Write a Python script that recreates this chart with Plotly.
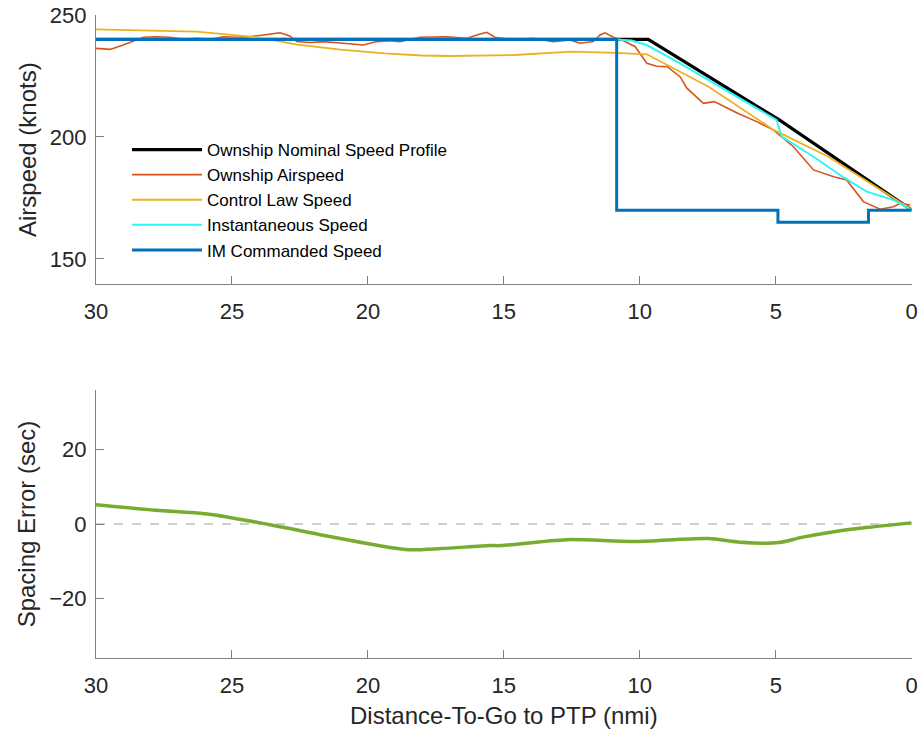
import plotly.graph_objects as go

# ---------------- data ----------------
black_d = [30, 9.69, 4.87, 0]
black_v = [240, 240, 207, 170.1]

red_d = [30.0, 29.48, 29.0, 28.69, 28.26, 27.77, 27.28, 26.79, 26.3, 25.81, 25.32, 24.83,
         24.34, 23.85, 23.23, 22.87, 22.62, 22.13, 21.64, 20.9, 20.17, 19.68, 19.19, 18.82,
         18.08, 17.1, 16.37, 16.0, 15.63, 15.33, 14.65, 13.92, 13.18, 12.57, 12.2, 11.71,
         11.46, 11.28, 10.97, 10.6, 10.17, 9.74, 9.38, 8.99, 8.52, 8.27, 7.66, 7.26, 6.4,
         5.7, 5.09, 4.35, 3.61, 2.87, 2.39, 1.78, 1.16, 0.67, 0.42, 0.05]
red_v = [236.3, 235.9, 237.7, 239.1, 240.9, 241.1, 240.9, 240.0, 240.4, 240.0, 241.1, 240.9,
         241.1, 241.8, 242.7, 241.4, 239.1, 238.7, 239.1, 238.4, 237.7, 239.1, 239.5, 239.1,
         240.9, 241.1, 240.4, 241.8, 242.9, 240.9, 239.8, 240.4, 239.1, 239.8, 238.4, 239.1,
         241.8, 242.7, 240.9, 239.4, 237.0, 230.2, 229.0, 228.8, 224.7, 220.0, 213.8, 214.5, 209.7,
         206.3, 202.9, 196.0, 186.5, 183.7, 182.4, 173.5, 170.4, 171.4, 172.8, 172.1]

orange_d = [30, 28, 26.3, 24.1, 22.6, 21, 19.4, 18, 17.0, 14.6, 12.5, 10.9, 9.74, 7.47, 5.08, 3.06, 0]
orange_v = [244.1, 243.6, 243.2, 240.9, 237.9, 235.8, 234.3, 233.4, 233.2, 233.6, 235.0, 234.5,
            233.9, 220.6, 202.9, 191.9, 170.3]

cyan_d = [10.88, 10.3, 9.75, 8.52, 4.97, 4.78, 3.61, 2.64, 1.66, 0.68, 0]
cyan_v = [240.0, 239.5, 237.7, 230.2, 207.0, 200.1, 191.9, 184.4, 177.6, 174.2, 170.1]

blue_d = [30, 10.85, 10.85, 4.92, 4.92, 1.59, 1.59, 0]
blue_v = [240, 240, 170, 170, 165, 165, 170, 170]

green_d = [30, 27.8, 25.9, 23.6, 21.6, 19.2, 18.5, 17.3, 15.5, 15.1, 12.7, 10.2, 7.5, 6.3,
           4.9, 4.05, 2.8, 1.6, 0]
green_v = [5.2, 3.7, 2.7, -0.2, -3.1, -6.3, -6.9, -6.6, -5.8, -5.8, -4.2, -4.7, -3.9, -4.9,
           -5.0, -3.6, -2.0, -0.9, 0.3]

zero_d = [30, 0]
zero_v = [0, 0]

x_ticks = [30, 25, 20, 15, 10, 5, 0]
top_yticks = [150, 200, 250]
bot_yticks = [-20, 0, 20]

names = ["Ownship Nominal Speed Profile", "Ownship Airspeed", "Control Law Speed",
         "Instantaneous Speed", "IM Commanded Speed"]

# ---------------- figure ----------------
FONT = "Liberation Sans, Arial, sans-serif"
fig = go.Figure()

fig.add_trace(go.Scatter(x=black_d, y=black_v, mode="lines", name=names[0],
                         line=dict(color="#000000", width=3.2), xaxis="x", yaxis="y"))
fig.add_trace(go.Scatter(x=red_d, y=red_v, mode="lines", name=names[1],
                         line=dict(color="#D95319", width=1.6), xaxis="x", yaxis="y"))
fig.add_trace(go.Scatter(x=orange_d, y=orange_v, mode="lines", name=names[2],
                         line=dict(color="#EDB120", width=1.8), xaxis="x", yaxis="y"))
fig.add_trace(go.Scatter(x=cyan_d, y=cyan_v, mode="lines", name=names[3],
                         line=dict(color="#2EF5F5", width=2), xaxis="x", yaxis="y"))
fig.add_trace(go.Scatter(x=blue_d, y=blue_v, mode="lines", name=names[4],
                         line=dict(color="#0072BD", width=3), xaxis="x", yaxis="y"))

fig.add_trace(go.Scatter(x=zero_d, y=zero_v, mode="lines", showlegend=False,
                         line=dict(color="#A0A0A0", width=1.2, dash="dash"),
                         xaxis="x2", yaxis="y2"))
fig.add_trace(go.Scatter(x=green_d, y=green_v, mode="lines", showlegend=False,
                         line=dict(color="#77AC30", width=3.5, shape="spline", smoothing=0.8),
                         xaxis="x2", yaxis="y2"))

W, H = 922, 740
xl, xr = 96 / W, 911.7 / W
axis_common = dict(showline=True, linecolor="#7F7F7F", linewidth=1.2, ticks="inside",
                   ticklen=8, tickcolor="#7F7F7F", tickwidth=1.2, showgrid=False,
                   zeroline=False, mirror=False, automargin=False,
                   tickfont=dict(family=FONT, size=22, color="#262626"))

fig.update_layout(
    width=W, height=H,
    margin=dict(l=0, r=0, t=0, b=0, autoexpand=False),
    paper_bgcolor="white", plot_bgcolor="white",
    font=dict(family=FONT, color="#262626"),
    xaxis=dict(domain=[xl, xr], range=[30, 0], tickvals=x_ticks, anchor="y",
               ticklabelstandoff=7, **axis_common),
    yaxis=dict(domain=[1 - 284.3 / H, 1 - 15 / H], range=[139.6, 250], tickvals=top_yticks,
               anchor="x", ticklabelstandoff=4,
               title=dict(text="Airspeed (knots)", font=dict(family=FONT, size=24, color="#262626"),
                          standoff=6),
               **axis_common),
    xaxis2=dict(domain=[xl, xr], range=[30, 0], tickvals=x_ticks, anchor="y2",
                ticklabelstandoff=7,
                title=dict(text="Distance-To-Go to PTP (nmi)",
                           font=dict(family=FONT, size=24, color="#262626"), standoff=10),
                **axis_common),
    yaxis2=dict(domain=[1 - 658 / H, 1 - 390 / H], range=[-36, 36], tickvals=bot_yticks,
                anchor="x2", ticklabelstandoff=4,
                title=dict(text="Spacing Error (sec)", font=dict(family=FONT, size=24, color="#262626"),
                           standoff=6),
                **axis_common),
    legend=dict(x=127 / W, y=1 - 132 / H, xanchor="left", yanchor="top",
                bgcolor="rgba(255,255,255,0)", borderwidth=0, itemwidth=70,
                font=dict(family=FONT, size=17, color="#000000"), tracegroupgap=0),
    showlegend=True,
)

fig.write_html("out.html")
